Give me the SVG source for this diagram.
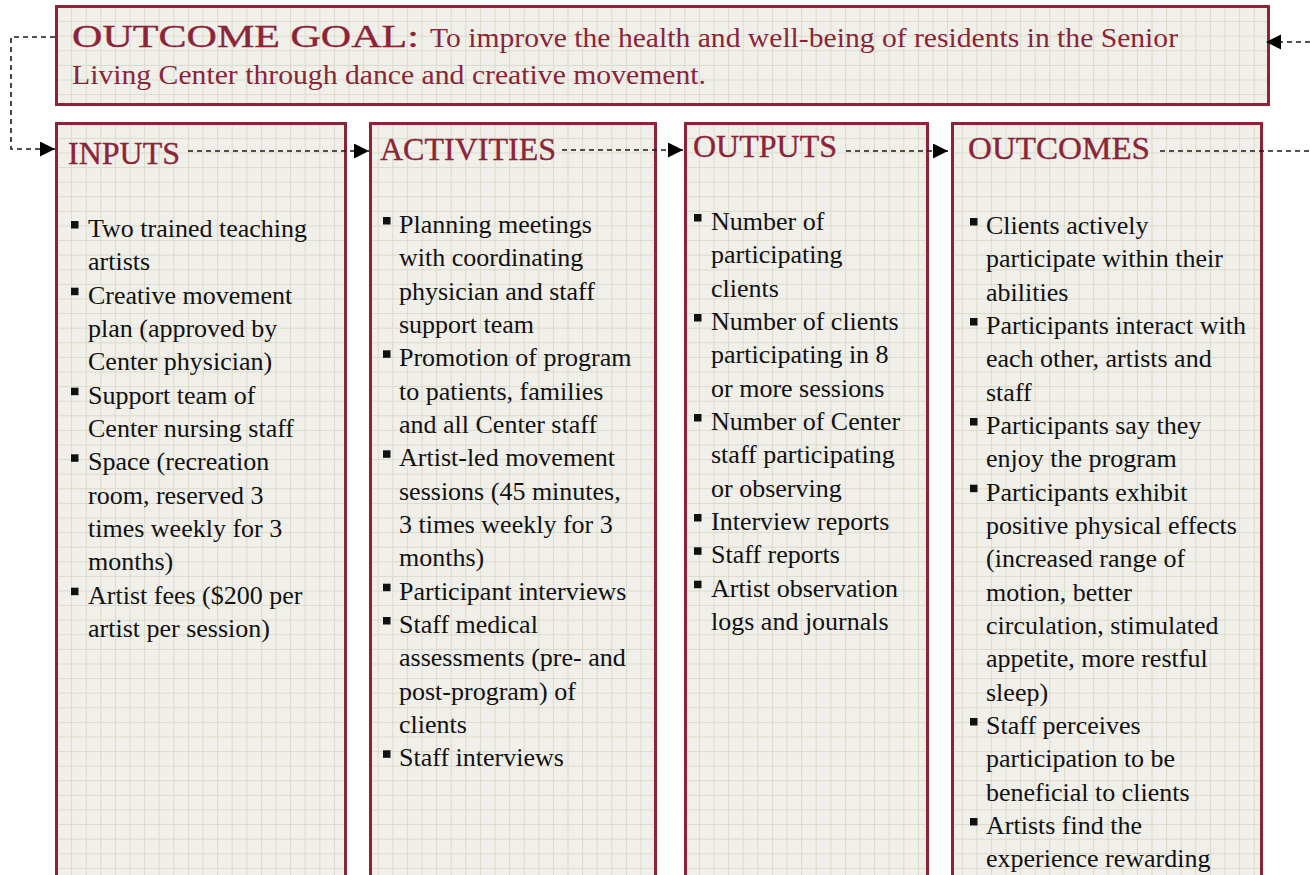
<svg xmlns="http://www.w3.org/2000/svg" width="1310" height="875" viewBox="0 0 1310 875">
<defs>
<pattern id="grid" patternUnits="userSpaceOnUse" x="56.5" y="6.5" width="14.6" height="14.6">
<rect width="14.6" height="14.6" fill="#F0EFEA"/>
<path d="M0,0.5 H14.6 M0.5,0 V14.6" stroke="#DBDBCA" stroke-width="1" fill="none"/>
</pattern>
<marker id="arr" markerUnits="userSpaceOnUse" markerWidth="16" markerHeight="16" refX="15" refY="7.5" orient="auto">
<path d="M0,0 L15,7.5 L0,15 z" fill="#000"/>
</marker>
<style>
.box{fill:url(#grid);stroke:#8C2437;stroke-width:3}
.hd{font-family:"Liberation Serif",serif;fill:#8C2437;stroke:#8C2437;stroke-width:0.35;font-size:32px}
.gl{font-family:"Liberation Serif",serif;fill:#8C2437;font-size:27px}
.bd{font-family:"Liberation Serif",serif;fill:#111;font-size:26px}
.bl{fill:#111}
.cn{fill:none;stroke:#1a1a1a;stroke-width:1.6;stroke-dasharray:5,4}
</style>
</defs>
<rect width="1310" height="875" fill="#fff"/>

<g id="goal">
<rect class="box" x="56.5" y="6.5" width="1212" height="98"/>
<text class="hd" x="72" y="47" font-size="37" textLength="347" lengthAdjust="spacingAndGlyphs">OUTCOME GOAL:</text>
<text class="gl" x="430" y="47" textLength="748" lengthAdjust="spacingAndGlyphs">To improve the health and well-being of residents in the Senior</text>
<text class="gl" x="72" y="84" textLength="634" lengthAdjust="spacingAndGlyphs">Living Center through dance and creative movement.</text>
</g>

<g id="inputs">
<rect class="box" x="56.5" y="123.5" width="289" height="770"/>
<text class="hd" x="68" y="164">INPUTS</text>
<g class="bl">
<rect x="71" y="221" width="7.5" height="7.5"/>
<rect x="71" y="287.7" width="7.5" height="7.5"/>
<rect x="71" y="387.7" width="7.5" height="7.5"/>
<rect x="71" y="454.3" width="7.5" height="7.5"/>
<rect x="71" y="587.7" width="7.5" height="7.5"/>
</g>
<text class="bd" y="237">
<tspan x="88">Two trained teaching</tspan>
<tspan x="88" dy="33.33">artists</tspan>
<tspan x="88" dy="33.33">Creative movement</tspan>
<tspan x="88" dy="33.33">plan (approved by</tspan>
<tspan x="88" dy="33.33">Center physician)</tspan>
<tspan x="88" dy="33.33">Support team of</tspan>
<tspan x="88" dy="33.33">Center nursing staff</tspan>
<tspan x="88" dy="33.33">Space (recreation</tspan>
<tspan x="88" dy="33.33">room, reserved 3</tspan>
<tspan x="88" dy="33.33">times weekly for 3</tspan>
<tspan x="88" dy="33.33">months)</tspan>
<tspan x="88" dy="33.33">Artist fees ($200 per</tspan>
<tspan x="88" dy="33.33">artist per session)</tspan>
</text>
</g>

<g id="activities">
<rect class="box" x="370.5" y="123.5" width="285" height="770"/>
<text class="hd" x="380" y="160">ACTIVITIES</text>
<g class="bl">
<rect x="383" y="217" width="7.5" height="7.5"/>
<rect x="383" y="350.3" width="7.5" height="7.5"/>
<rect x="383" y="450.3" width="7.5" height="7.5"/>
<rect x="383" y="583.7" width="7.5" height="7.5"/>
<rect x="383" y="617" width="7.5" height="7.5"/>
<rect x="383" y="750.3" width="7.5" height="7.5"/>
</g>
<text class="bd" y="233">
<tspan x="399">Planning meetings</tspan>
<tspan x="399" dy="33.33">with coordinating</tspan>
<tspan x="399" dy="33.33">physician and staff</tspan>
<tspan x="399" dy="33.33">support team</tspan>
<tspan x="399" dy="33.33">Promotion of program</tspan>
<tspan x="399" dy="33.33">to patients, families</tspan>
<tspan x="399" dy="33.33">and all Center staff</tspan>
<tspan x="399" dy="33.33">Artist-led movement</tspan>
<tspan x="399" dy="33.33">sessions (45 minutes,</tspan>
<tspan x="399" dy="33.33">3 times weekly for 3</tspan>
<tspan x="399" dy="33.33">months)</tspan>
<tspan x="399" dy="33.33">Participant interviews</tspan>
<tspan x="399" dy="33.33">Staff medical</tspan>
<tspan x="399" dy="33.33">assessments (pre- and</tspan>
<tspan x="399" dy="33.33">post-program) of</tspan>
<tspan x="399" dy="33.33">clients</tspan>
<tspan x="399" dy="33.33">Staff interviews</tspan>
</text>
</g>

<g id="outputs">
<rect class="box" x="685.5" y="123.5" width="242" height="770"/>
<text class="hd" x="693" y="157">OUTPUTS</text>
<g class="bl">
<rect x="694" y="214" width="7.5" height="7.5"/>
<rect x="694" y="314" width="7.5" height="7.5"/>
<rect x="694" y="414" width="7.5" height="7.5"/>
<rect x="694" y="514" width="7.5" height="7.5"/>
<rect x="694" y="547.3" width="7.5" height="7.5"/>
<rect x="694" y="580.7" width="7.5" height="7.5"/>
</g>
<text class="bd" y="230">
<tspan x="711">Number of</tspan>
<tspan x="711" dy="33.33">participating</tspan>
<tspan x="711" dy="33.33">clients</tspan>
<tspan x="711" dy="33.33">Number of clients</tspan>
<tspan x="711" dy="33.33">participating in 8</tspan>
<tspan x="711" dy="33.33">or more sessions</tspan>
<tspan x="711" dy="33.33">Number of Center</tspan>
<tspan x="711" dy="33.33">staff participating</tspan>
<tspan x="711" dy="33.33">or observing</tspan>
<tspan x="711" dy="33.33">Interview reports</tspan>
<tspan x="711" dy="33.33">Staff reports</tspan>
<tspan x="711" dy="33.33">Artist observation</tspan>
<tspan x="711" dy="33.33">logs and journals</tspan>
</text>
</g>

<g id="outcomes">
<rect class="box" x="952.5" y="123.5" width="309" height="770"/>
<text class="hd" x="968" y="159" textLength="182" lengthAdjust="spacingAndGlyphs">OUTCOMES</text>
<g class="bl">
<rect x="970" y="218" width="7.5" height="7.5"/>
<rect x="970" y="318" width="7.5" height="7.5"/>
<rect x="970" y="418" width="7.5" height="7.5"/>
<rect x="970" y="484.7" width="7.5" height="7.5"/>
<rect x="970" y="718" width="7.5" height="7.5"/>
<rect x="970" y="818" width="7.5" height="7.5"/>
</g>
<text class="bd" y="234">
<tspan x="986">Clients actively</tspan>
<tspan x="986" dy="33.33">participate within their</tspan>
<tspan x="986" dy="33.33">abilities</tspan>
<tspan x="986" dy="33.33">Participants interact with</tspan>
<tspan x="986" dy="33.33">each other, artists and</tspan>
<tspan x="986" dy="33.33">staff</tspan>
<tspan x="986" dy="33.33">Participants say they</tspan>
<tspan x="986" dy="33.33">enjoy the program</tspan>
<tspan x="986" dy="33.33">Participants exhibit</tspan>
<tspan x="986" dy="33.33">positive physical effects</tspan>
<tspan x="986" dy="33.33">(increased range of</tspan>
<tspan x="986" dy="33.33">motion, better</tspan>
<tspan x="986" dy="33.33">circulation, stimulated</tspan>
<tspan x="986" dy="33.33">appetite, more restful</tspan>
<tspan x="986" dy="33.33">sleep)</tspan>
<tspan x="986" dy="33.33">Staff perceives</tspan>
<tspan x="986" dy="33.33">participation to be</tspan>
<tspan x="986" dy="33.33">beneficial to clients</tspan>
<tspan x="986" dy="33.33">Artists find the</tspan>
<tspan x="986" dy="33.33">experience rewarding</tspan>
</text>
</g>

<g id="connectors">
<path class="cn" d="M55,37 H11 V149 H55" marker-end="url(#arr)"/>
<path class="cn" d="M188,151 H369" marker-end="url(#arr)"/>
<path class="cn" d="M562,150 H683" marker-end="url(#arr)"/>
<path class="cn" d="M846,151 H948" marker-end="url(#arr)"/>
<path class="cn" d="M1160,151 H1310"/>
<path class="cn" d="M1310,42 H1266" marker-end="url(#arr)"/>
</g>
</svg>
